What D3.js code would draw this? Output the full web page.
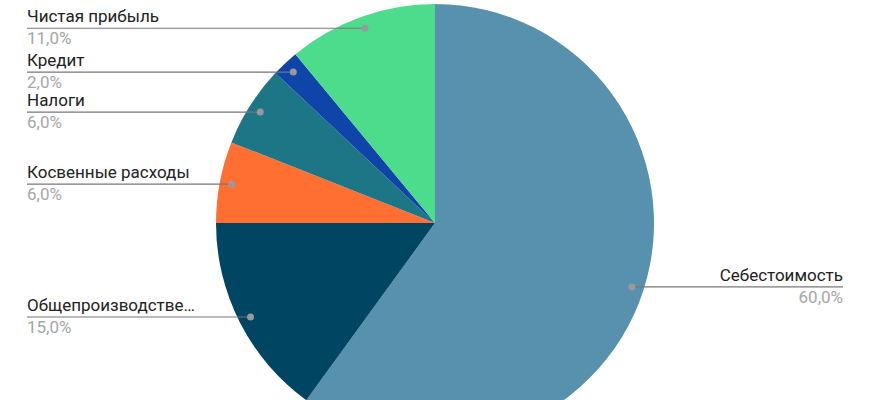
<!DOCTYPE html>
<html><head><meta charset="utf-8">
<script src="https://cdn.jsdelivr.net/npm/d3@7"></script>
<style>html,body{margin:0;padding:0;background:#fff;}svg{display:block;}</style>
</head><body>
<svg id="chart" width="870" height="400"></svg>
<script>
const categories = ["Себестоимость", "Общепроизводстве…", "Косвенные расходы", "Налоги", "Кредит", "Чистая прибыль"];
const values = [60, 15, 6, 6, 2, 11];
const percentLabels = ["60,0%", "15,0%", "6,0%", "6,0%", "2,0%", "11,0%"];
const colors = ["#5891ad", "#004561", "#ff6f31", "#1c7685", "#0f45a8", "#4cdc8b"];

const W = 870, H = 400;
const cx = 435, cy = 223, R = 219, dotR = 207;
const leftX = 27, rightX = 843;
const FONT = "Roboto, Arial, sans-serif";

const svg = d3.select("#chart");
const data = categories.map((c, i) => ({name: c, value: values[i], pct: percentLabels[i], color: colors[i]}));
const pie = d3.pie().value(d => d.value).sort(null);
const arcs = pie(data);
const arc = d3.arc().innerRadius(0).outerRadius(R);
const g = svg.append("g").attr("transform", `translate(${cx},${cy})`);
g.selectAll("path").data(arcs).join("path")
  .attr("d", arc).attr("fill", d => d.data.color);

const lab = svg.append("g");
arcs.forEach(a => {
  const mid = (a.startAngle + a.endAngle) / 2;
  const x = cx + dotR * Math.sin(mid);
  const y = cy - dotR * Math.cos(mid);
  const right = Math.sin(mid) > 0;
  const ex = right ? rightX : leftX;
  lab.append("line").attr("x1", x).attr("y1", y).attr("x2", ex).attr("y2", y)
    .attr("stroke", "#777").attr("stroke-width", 1.2);
  lab.append("circle").attr("cx", x).attr("cy", y).attr("r", 3.5).attr("fill", "#999");
  lab.append("text").attr("x", ex).attr("y", y - 6)
    .attr("text-anchor", right ? "end" : "start")
    .attr("font-family", FONT).attr("font-size", 17)
    .attr("fill", "#222").text(a.data.name);
  lab.append("text").attr("x", ex).attr("y", y + 16)
    .attr("text-anchor", right ? "end" : "start")
    .attr("font-family", FONT).attr("font-size", 17)
    .attr("fill", "#a6a6a6").text(a.data.pct);
});
</script>
</body></html>
